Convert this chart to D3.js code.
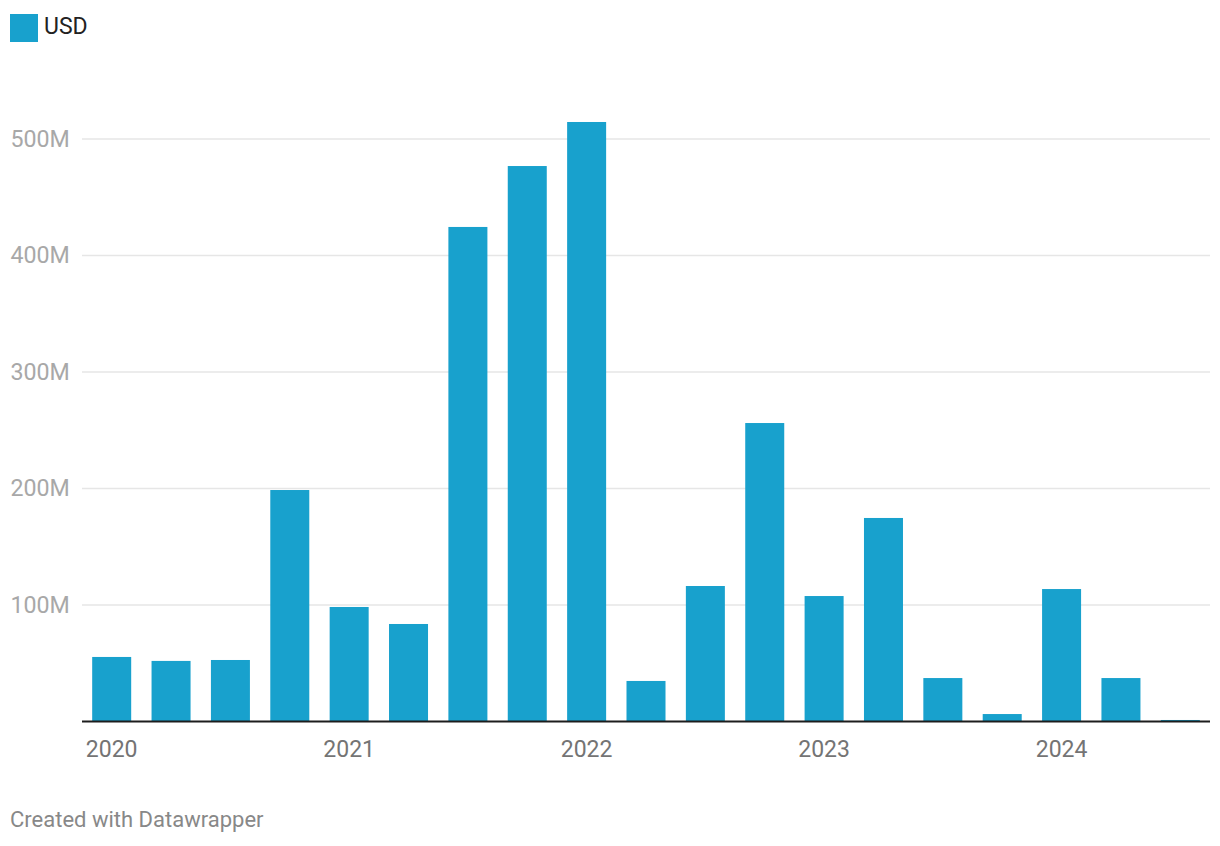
<!DOCTYPE html>
<html>
<head>
<meta charset="utf-8">
<script src="https://cdn.jsdelivr.net/npm/d3@7"></script>
<style>
  html, body { margin: 0; padding: 0; background: #fff; }
  svg { display: block; font-family: Roboto, "Noto Sans", sans-serif; }
</style>
</head>
<body>
<svg id="chart" width="1220" height="846"></svg>
<script>
const quarters = ["2020 Q1","2020 Q2","2020 Q3","2020 Q4","2021 Q1","2021 Q2","2021 Q3","2021 Q4","2022 Q1","2022 Q2","2022 Q3","2022 Q4","2023 Q1","2023 Q2","2023 Q3","2023 Q4","2024 Q1","2024 Q2","2024 Q3"];
const usd = [55.4, 52.0, 52.8, 198.7, 98.3, 83.7, 424.5, 476.8, 514.6, 34.8, 116.3, 256.2, 107.7, 174.7, 37.3, 6.4, 113.7, 37.3, 1.3]; // millions
const yTicks = [100, 200, 300, 400, 500];
const yearLabels = [
  {q: "2020 Q1", label: "2020"},
  {q: "2021 Q1", label: "2021"},
  {q: "2022 Q1", label: "2022"},
  {q: "2023 Q1", label: "2023"},
  {q: "2024 Q1", label: "2024"}
];

const svg = d3.select("#chart");
const plotLeft = 82, plotRight = 1210, plotBottom = 721.5, plotTop500 = 139;

const x = d3.scaleBand().domain(quarters).range([plotLeft, plotRight]).paddingInner(0.343).paddingOuter(0.1715);
const y = d3.scaleLinear().domain([0, 500]).range([plotBottom, plotTop500]);

// legend
svg.append("rect").attr("x", 10).attr("y", 14).attr("width", 28).attr("height", 28).attr("fill", "#18a1cd");
svg.append("text").attr("x", 44).attr("y", 33.5)
  .attr("font-size", 23).attr("fill", "#222").text("USD");

// gridlines
const grid = svg.append("g");
grid.selectAll("line").data(yTicks).join("line")
  .attr("x1", plotLeft).attr("x2", plotRight)
  .attr("y1", d => y(d)).attr("y2", d => y(d))
  .attr("stroke", "#e6e6e6").attr("stroke-width", 1.5);
grid.selectAll("text").data(yTicks).join("text")
  .attr("x", 10.5).attr("y", d => y(d) + 7.8)
  .attr("font-size", 23.2).attr("fill", "#a8a8a8")
  .text(d => d + "M");

// bars
svg.append("g").selectAll("rect").data(usd).join("rect")
  .attr("x", (d, i) => x(quarters[i]))
  .attr("width", x.bandwidth())
  .attr("y", d => y(d))
  .attr("height", d => y(0) - y(d))
  .attr("fill", "#18a1cd");

// baseline
svg.append("line").attr("x1", plotLeft).attr("x2", plotRight)
  .attr("y1", y(0)).attr("y2", y(0))
  .attr("stroke", "#1d1d1d").attr("stroke-width", 2);

// x labels
svg.append("g").selectAll("text").data(yearLabels).join("text")
  .attr("x", d => x(d.q) + x.bandwidth() / 2)
  .attr("y", 756.5)
  .attr("text-anchor", "middle")
  .attr("font-size", 23).attr("fill", "#747474")
  .text(d => d.label);

// footer
svg.append("text").attr("x", 10).attr("y", 827)
  .attr("font-size", 22).attr("fill", "#888")
  .text("Created with Datawrapper");
</script>
</body>
</html>
